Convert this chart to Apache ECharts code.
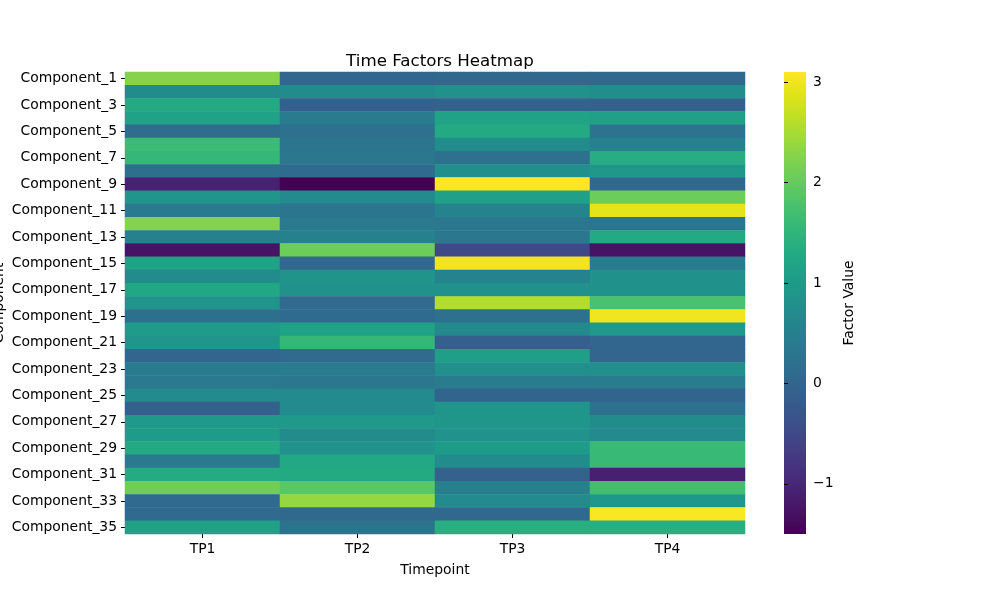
<!DOCTYPE html>
<html>
<head>
<meta charset="utf-8">
<script src="https://cdn.jsdelivr.net/npm/echarts@6/dist/echarts.min.js"></script>
<style>html,body{margin:0;padding:0;background:#fff;}#c{width:1000px;height:600px;}</style>
</head>
<body>
<div id="c"></div>
<script>
const timepoints = ['TP1', 'TP2', 'TP3', 'TP4'];
const components = Array.from({length: 35}, (_, i) => 'Component_' + (i + 1));
const colorbarTicks = [-1, 0, 1, 2, 3];
const valueMin = -1.5;
const valueMax = 3.1;
// values per component: [TP1, TP2, TP3, TP4]
const factorValues = [
  [2.25, 0.03, 0.05, 0.05],
  [0.72, 0.72, 0.8, 0.75],
  [1.3, -0.1, -0.05, -0.05],
  [1.15, 0.4, 1.15, 1.12],
  [0.13, 0.2, 1.3, 0.22],
  [1.63, 0.3, 0.72, 0.5],
  [1.55, 0.32, 0.2, 1.35],
  [0.17, 0.1, 0.78, 0.95],
  [-1.08, -1.5, 3.1, 0.05],
  [0.9, 0.68, 1.12, 2.07],
  [0.38, 0.3, 0.55, 2.9],
  [2.25, 0.35, 0.33, 0.3],
  [0.5, 0.52, 0.33, 1.3],
  [-1.27, 2.07, -0.5, -1.27],
  [1.15, 0.05, 3.0, 0.4],
  [0.72, 0.85, 0.55, 0.8],
  [1.25, 0.8, 0.8, 0.8],
  [0.85, 0.08, 2.57, 1.77],
  [0.18, 0.1, 0.2, 3.0],
  [1.03, 1.15, 0.65, 0.98],
  [0.88, 1.56, -0.12, 0.0],
  [0.0, 0.08, 1.08, 0.0],
  [0.42, 0.4, 0.78, 0.78],
  [0.35, 0.33, 0.42, 0.4],
  [0.68, 0.68, -0.02, -0.02],
  [-0.12, 0.7, 0.9, 0.2],
  [0.98, 0.96, 0.9, 0.72],
  [1.03, 0.72, 0.82, 0.68],
  [1.3, 0.82, 1.0, 1.6],
  [0.36, 1.26, 0.72, 1.6],
  [1.32, 1.3, -0.07, -1.1],
  [2.1, 1.9, 0.48, 1.7],
  [0.08, 2.36, 0.7, 0.93],
  [0.08, 0.05, 0.05, 3.08],
  [1.1, 0.25, 1.38, 1.38]
];
const viridis = ['#440154','#471365','#482475','#463480','#414487','#3b528b','#355f8d','#2f6c8e','#2a788e','#25848e','#21918c','#1e9c89','#22a884','#2fb47c','#44bf70','#5ec962','#7ad151','#9bd93c','#bddf26','#dfe318','#fde725'];

const heatData = [];
factorValues.forEach((row, r) => row.forEach((v, c) => heatData.push([c, r, v])));

const font = 'DejaVu Sans';
const chart = echarts.init(document.getElementById('c'));
const gradStops = viridis.map((col, i) => ({offset: 1 - i / (viridis.length - 1), color: col}));

chart.setOption({
  animation: false,
  backgroundColor: '#fff',
  title: {
    text: 'Time Factors Heatmap', left: 435, top: 48, textAlign: 'center',
    textStyle: {fontFamily: font, fontSize: 16.7, fontWeight: 'normal', color: '#000'}
  },
  grid: [
    {left: 125, top: 72, width: 620, height: 462, containLabel: false, outerBoundsMode: 'none'},
    {left: 784, top: 72, width: 22, height: 462, show: true, borderWidth: 0,
     containLabel: false, outerBoundsMode: 'none',
     backgroundColor: new echarts.graphic.LinearGradient(0, 0, 0, 1, gradStops)}
  ],
  xAxis: [
    {type: 'category', data: timepoints, gridIndex: 0, position: 'bottom',
     name: 'Timepoint', nameLocation: 'middle', nameGap: 29, nameMoveOverlap: false,
     nameTextStyle: {fontFamily: font, fontSize: 13.9, color: '#000'},
     axisLine: {show: false}, splitLine: {show: false},
     axisTick: {show: true, alignWithLabel: true, length: 4, lineStyle: {color: '#000'}},
     axisLabel: {fontFamily: font, fontSize: 13.9, color: '#000', margin: 8}},
    {type: 'value', gridIndex: 1, show: false, min: 0, max: 1}
  ],
  yAxis: [
    {type: 'category', data: components, gridIndex: 0, inverse: true,
     name: 'Component', nameLocation: 'middle', nameGap: 119, nameMoveOverlap: false,
     nameTextStyle: {fontFamily: font, fontSize: 13.9, color: '#000'},
     axisLine: {show: false}, splitLine: {show: false},
     axisTick: {show: true, alignWithLabel: true, interval: 1, length: 4, lineStyle: {color: '#000'}},
     axisLabel: {fontFamily: font, fontSize: 13.9, color: '#000', interval: 1, margin: 8}},
    {type: 'value', gridIndex: 1, position: 'right', min: valueMin, max: valueMax,
     name: 'Factor Value', nameLocation: 'middle', nameGap: 36, nameRotate: 90, nameMoveOverlap: false,
     nameTextStyle: {fontFamily: font, fontSize: 13.9, color: '#000'},
     axisLine: {show: false}, splitLine: {show: false},
     axisTick: {show: true, length: 4, lineStyle: {color: '#000'}, customValues: colorbarTicks},
     axisLabel: {fontFamily: font, fontSize: 13.9, color: '#000', margin: 7,
       customValues: colorbarTicks,
       formatter: v => (v < 0 ? '\u2212' + Math.abs(v) : String(v))}
    }
  ],
  visualMap: {
    show: false, min: valueMin, max: valueMax, seriesIndex: 0, dimension: 2,
    inRange: {color: viridis}
  },
  series: [
    {type: 'heatmap', xAxisIndex: 0, yAxisIndex: 0, data: heatData,
     itemStyle: {borderWidth: 0}, emphasis: {disabled: true}}
  ]
});
</script>
</body>
</html>
